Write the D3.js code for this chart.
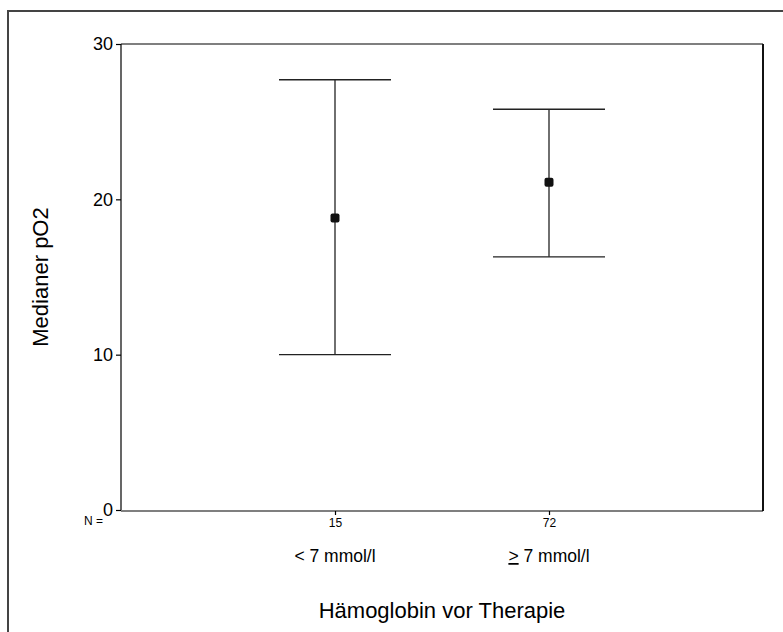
<!DOCTYPE html>
<html><head><meta charset="utf-8">
<script src="https://cdn.jsdelivr.net/npm/d3@7/dist/d3.min.js"></script>
<style>body{margin:0;background:#fff;} text{font-family:Arial,"Liberation Sans",sans-serif;fill:#000;}</style>
</head><body>
<svg id="c" width="783" height="632"></svg>
<script>
const groups = ["< 7 mmol/l", "≥ 7 mmol/l"];
const nValues = ["15", "72"];
const medians = [18.8, 21.1];
const lowers = [10.0, 16.3];
const uppers = [27.7, 25.8];
const yTicks = [0, 10, 20, 30];

const svg = d3.select("#c");
const L = 121, R = 763, T = 44, B = 510;
const x = d3.scaleLinear().domain([0, 3]).range([L, R]);
const y = d3.scaleLinear().domain([0, 30]).range([B, T]);

// outer frame (clipped)
svg.append("path").attr("d", `M8,640 L8,11 L790,11`).attr("fill","none").attr("stroke","#444").attr("stroke-width",2);

// plot frame
svg.append("line").attr("x1",L).attr("x2",R).attr("y1",T).attr("y2",T).attr("stroke","#555").attr("stroke-width",1.5);
svg.append("line").attr("x1",R).attr("x2",R).attr("y1",T).attr("y2",B+1).attr("stroke","#111").attr("stroke-width",2);

// y axis
const yAx = svg.append("g").attr("transform",`translate(${L},0)`)
  .call(d3.axisLeft(y).tickValues(yTicks).tickSize(5).tickPadding(3));
yAx.selectAll("text").style("font-size","18px").attr("font-family","Arial, 'Liberation Sans', sans-serif");
yAx.selectAll("line,path").attr("stroke","#000").attr("stroke-width",1.2);
yAx.select(".domain").attr("d",`M0,${T}V${B}`);

// x axis
const xAx = svg.append("g").attr("transform",`translate(0,${B+1})`)
  .call(d3.axisBottom(x).tickValues([1,2]).tickFormat((d,i)=>nValues[i]).tickSize(4).tickPadding(3));
xAx.selectAll("text").style("font-size","12px").attr("font-family","Arial, 'Liberation Sans', sans-serif");
xAx.selectAll("line,path").attr("stroke","#000").attr("stroke-width",1.2);
xAx.select(".domain").attr("d",`M${L},0H${R}`);

svg.append("text").attr("x",103).attr("y",525).attr("text-anchor","end").style("font-size","12px").text("N =");

// category labels
groups.forEach((g,i)=>{
  const t = svg.append("text").attr("x",x(i+1)).attr("y",562).attr("text-anchor","middle").style("font-size","17.5px");
  if (g.startsWith("≥")) {
    t.append("tspan").attr("text-decoration","underline").text(">");
    t.append("tspan").text(g.slice(1));
  } else t.text(g);
});

// error bars
const cap = 56;
const bars = svg.append("g");
groups.forEach((g,i)=>{
  const cx = x(i+1);
  bars.append("line").attr("x1",cx).attr("x2",cx).attr("y1",y(uppers[i])).attr("y2",y(lowers[i])).attr("stroke","#222").attr("stroke-width",1.3);
  bars.append("line").attr("x1",cx-cap).attr("x2",cx+cap).attr("y1",y(uppers[i])).attr("y2",y(uppers[i])).attr("stroke","#222").attr("stroke-width",1.3);
  bars.append("line").attr("x1",cx-cap).attr("x2",cx+cap).attr("y1",y(lowers[i])).attr("y2",y(lowers[i])).attr("stroke","#222").attr("stroke-width",1.3);
  bars.append("rect").attr("x",cx-4.5).attr("y",y(medians[i])-4.5).attr("width",9).attr("height",9).attr("rx",2).attr("fill","#111");
});

// axis titles
svg.append("text").attr("x",442).attr("y",618).attr("text-anchor","middle").style("font-size","22px").text("Hämoglobin vor Therapie");
svg.append("text").attr("transform",`translate(48,${(T+B)/2}) rotate(-90)`).attr("text-anchor","middle").style("font-size","22px").text("Medianer pO2");
</script>
</body></html>
